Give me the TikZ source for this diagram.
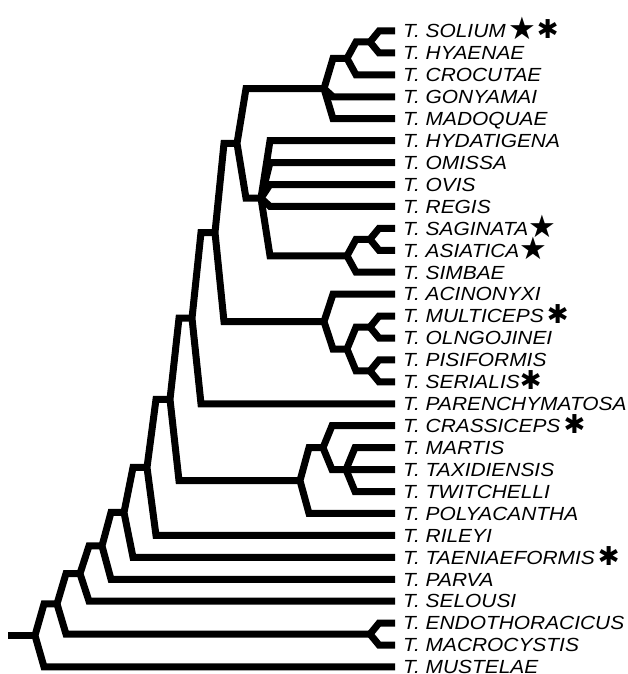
\documentclass[tikz,border=0pt]{standalone}
\usepackage{fontspec}
\usetikzlibrary{calc}
\newfontfamily\taxfont[FakeStretch=1.1]{Liberation Sans}
\newfontfamily\symfont{DejaVu Sans}
\newcommand\hostmark{\raisebox{-1pt}{\symfont\upshape\fontsize{26}{26}\selectfont ✱}}
\newcommand\hoststar{\raisebox{-2pt}{\symfont\upshape\fontsize{31}{31}\selectfont ★}}
\newcommand\clade[3]{\draw[branch] (#2) -- ($(#1 |- #2)+(9,0)$) -- (#1) -- ($(#1 |- #3)+(9,0)$) -- (#3);}
\newcommand\twig[2]{\draw[branch] (#1) -- ($(#1 |- #2)+(9,0)$) -- (#2);}

\begin{document}
\begin{tikzpicture}[
  x=1pt, y=-1pt,
  branch/.style={line width=7pt, line join=miter, line cap=butt},
  taxon/.style={anchor=west, inner xsep=8pt, inner ysep=0pt, text height=13.6pt, text depth=0pt,
    font=\taxfont\itshape\fontsize{19}{19}\selectfont}
]
\useasboundingbox (0,0) rectangle (628,674);

% leaves
\foreach \n/\t [count=\i from 0] in {
  solium/{T. SOLIUM\,\hoststar\hostmark}, hyaenae/{T. HYAENAE}, crocutae/{T. CROCUTAE},
  gonyamai/{T. GONYAMAI}, madoquae/{T. MADOQUAE}, hydatigena/{T. HYDATIGENA},
  omissa/{T. OMISSA}, ovis/{T. OVIS}, regis/{T. REGIS},
  saginata/{T. SAGINATA\hoststar}, asiatica/{T. ASIATICA\hoststar},
  simbae/{T. SIMBAE}, acinonyxi/{T. ACINONYXI}, multiceps/{T. MULTICEPS\,\hostmark},
  olngojinei/{T. OLNGOJINEI}, pisiformis/{T. PISIFORMIS}, serialis/{T. SERIALIS\hostmark},
  parenchymatosa/{T. PARENCHYMATOSA}, crassiceps/{T. CRASSICEPS\,\hostmark},
  martis/{T. MARTIS}, taxidiensis/{T. TAXIDIENSIS}, twitchelli/{T. TWITCHELLI},
  polyacantha/{T. POLYACANTHA}, rileyi/{T. RILEYI}, taeniaeformis/{T. TAENIAEFORMIS\,\hostmark},
  parva/{T. PARVA}, selousi/{T. SELOUSI}, endothoracicus/{T. ENDOTHORACICUS},
  macrocystis/{T. MACROCYSTIS}, mustelae/{T. MUSTELAE}}
  \node[taxon] (\n) at (395, 31+21.93*\i) {\t};

% internal vertices
\coordinate (solhya) at (370,42.0);
\coordinate (solcro) at (347,58.4);
\coordinate (solmad) at (324,88.6);
\coordinate (sagasi) at (370,239.3);
\coordinate (sagsim) at (347,255.8);
\coordinate (hydsim) at (261,198.2);
\coordinate (solsim) at (237,143.4);
\coordinate (muloln) at (370,327.1);
\coordinate (pisser) at (370,370.9);
\coordinate (mulser) at (347,349.0);
\coordinate (aciser) at (324,321.6);
\coordinate (solser) at (215,232.5);
\coordinate (solpar) at (192,318.2);
\coordinate (martwi) at (346,469.6);
\coordinate (cratwi) at (323,447.7);
\coordinate (crapol) at (300,480.6);
\coordinate (solpol) at (170,399.4);
\coordinate (solril) at (147,467.4);
\coordinate (soltae) at (124,512.4);
\coordinate (solprv) at (102,545.9);
\coordinate (solsel) at (80,573.6);
\coordinate (endmac) at (370,634.1);
\coordinate (solmac) at (57,603.9);
\coordinate (root) at (35,635.5);
\coordinate (stem) at (8,635.5);

\clade{solhya}{solium}{hyaenae}
\clade{solcro}{solhya}{crocutae}
\clade{solmad}{solcro}{madoquae}
\twig{solmad}{gonyamai}
\clade{sagasi}{saginata}{asiatica}
\clade{sagsim}{sagasi}{simbae}
\clade{hydsim}{hydatigena}{sagsim}
\twig{hydsim}{omissa}
\twig{hydsim}{ovis}
\twig{hydsim}{regis}
\clade{solsim}{solmad}{hydsim}
\clade{muloln}{multiceps}{olngojinei}
\clade{pisser}{pisiformis}{serialis}
\clade{mulser}{muloln}{pisser}
\clade{aciser}{acinonyxi}{mulser}
\clade{solser}{solsim}{aciser}
\clade{solpar}{solser}{parenchymatosa}
\clade{martwi}{martis}{twitchelli}
\twig{martwi}{taxidiensis}
\clade{cratwi}{crassiceps}{martwi}
\clade{crapol}{cratwi}{polyacantha}
\clade{solpol}{solpar}{crapol}
\clade{solril}{solpol}{rileyi}
\clade{soltae}{solril}{taeniaeformis}
\clade{solprv}{soltae}{parva}
\clade{solsel}{solprv}{selousi}
\clade{endmac}{endothoracicus}{macrocystis}
\clade{solmac}{solsel}{endmac}
\clade{root}{solmac}{mustelae}
\draw[branch] (stem) -- (root);

\end{tikzpicture}
\end{document}
